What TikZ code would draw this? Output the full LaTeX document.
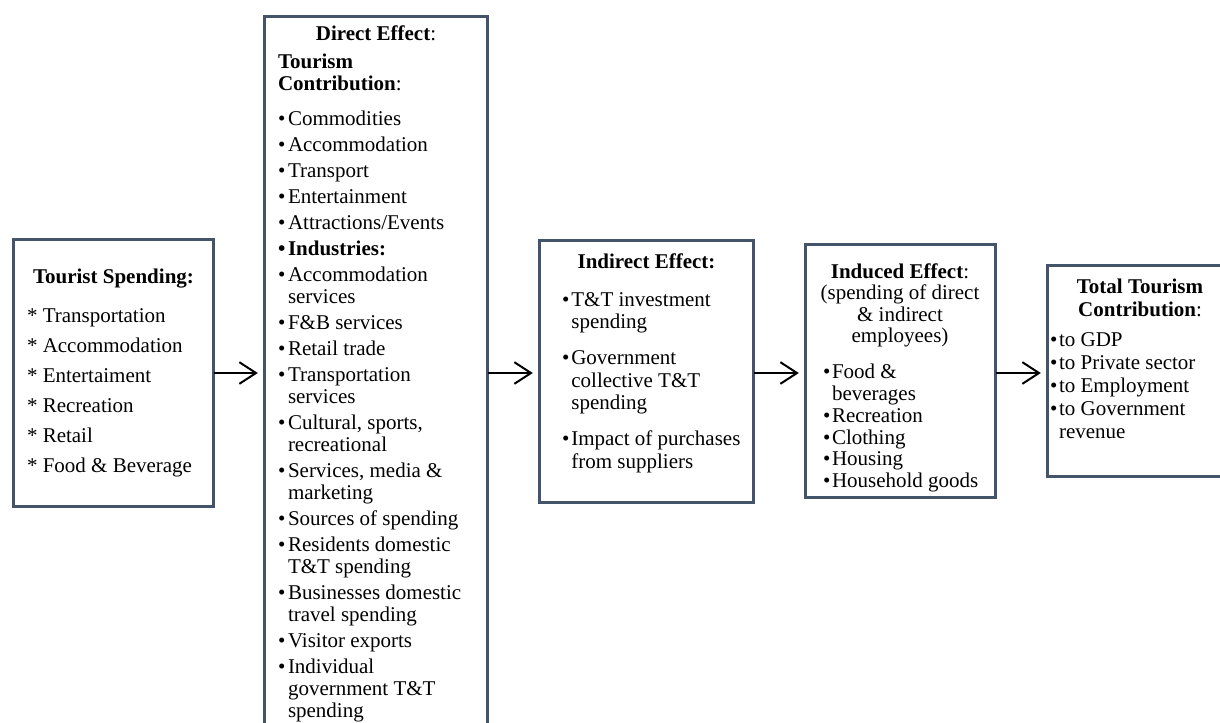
\documentclass[tikz,border=0pt]{standalone}
\usepackage{fontspec}
\setmainfont{Liberation Serif}
\usetikzlibrary{arrows.meta,fit}
\definecolor{boxline}{RGB}{68,84,106}
% bullet set in a box of fixed width, so that item texts line up
\newcommand{\bul}[1]{\makebox[#1][l]{\textbullet}}
\newcommand{\bbul}[1]{\makebox[#1][l]{\textbf{\textbullet}}}

\begin{document}
\begin{tikzpicture}[x=0.6pt,y=-0.6pt,
  panel/.style={draw=boxline, line width=1.8pt, inner sep=0pt, outer sep=0pt},
  txt/.style={inner sep=0pt, outer sep=0pt, anchor=base west},
  ttl/.style={inner sep=0pt, outer sep=0pt, anchor=base},
  flow/.style={draw=black, line width=1.2pt,
    -{Straight Barb[length=10pt,width=13pt]}, shorten >=4pt}
]
\useasboundingbox (0,0) rectangle (1220,722);
\fill[white] (0,0) rectangle (1220,722);
\clip (0,0) rectangle (1220,722);

% ---- panels ----
\node[panel, fit={(13.5,239.5) (213.5,506.5)}] (b1) {};
\node[panel, fit={(264.5,16.5) (487.5,760)}] (b2) {};
\node[panel, fit={(539.5,240.5) (753.5,502.5)}] (b3) {};
\node[panel, fit={(805.5,244.5) (995.5,497.5)}] (b4) {};
\node[panel, fit={(1047.5,265.5) (1240,476.5)}] (b5) {};

% ---- tourist spending ----
\node[ttl, font=\fontsize{12.6}{18}\selectfont] (t1) at (113.5,283)
  {\textbf{Tourist Spending:}};
\node[txt, font=\fontsize{12.6}{18}\selectfont] (l1) at (27,322)
  {\begin{tabular}[t]{@{}l@{}}
   {*} Transportation\\
   {*} Accommodation\\
   {*} Entertaiment\\
   {*} Recreation\\
   {*} Retail\\
   {*} Food \& Beverage
   \end{tabular}};

% ---- direct effect ----
\node[ttl, font=\fontsize{12.6}{13.2}\selectfont] (t2) at (376,40)
  {\textbf{Direct Effect}:};
\node[txt, font=\fontsize{12.6}{13.2}\selectfont] (l2) at (278,68)
  {\begin{tabular}[t]{@{}l@{}l@{}}
   \multicolumn{2}{@{}l@{}}{\textbf{Tourism}}\\
   \multicolumn{2}{@{}l@{}}{\textbf{Contribution}:}\\[7.8pt]
   \bul{6pt} & Commodities\\[2.4pt]
   \bul{6pt} & Accommodation\\[2.4pt]
   \bul{6pt} & Transport\\[2.4pt]
   \bul{6pt} & Entertainment\\[2.4pt]
   \bul{6pt} & Attractions/Events\\[2.4pt]
   \bbul{6pt} & \textbf{Industries:}\\[2.4pt]
   \bul{6pt} & Accommodation\\
             & services\\[2.4pt]
   \bul{6pt} & F\&B services\\[2.4pt]
   \bul{6pt} & Retail trade\\[2.4pt]
   \bul{6pt} & Transportation\\
             & services\\[2.4pt]
   \bul{6pt} & Cultural, sports,\\
             & recreational\\[2.4pt]
   \bul{6pt} & Services, media \&\\
             & marketing\\[2.4pt]
   \bul{6pt} & Sources of spending\\[2.4pt]
   \bul{6pt} & Residents domestic\\
             & T\&T spending\\[2.4pt]
   \bul{6pt} & Businesses domestic\\
             & travel spending\\[2.4pt]
   \bul{6pt} & Visitor exports\\[2.4pt]
   \bul{6pt} & Individual\\
             & government T\&T\\
             & spending
   \end{tabular}};

% ---- indirect effect ----
\node[ttl, font=\fontsize{12.6}{13.5}\selectfont] (t3) at (646.5,268)
  {\textbf{Indirect Effect:}};
\node[txt, font=\fontsize{12.6}{13.5}\selectfont] (l3) at (562,306)
  {\begin{tabular}[t]{@{}l@{}l@{}}
   \bul{5.6pt} & T\&T investment\\
               & spending\\[8.1pt]
   \bul{5.6pt} & Government\\
               & collective T\&T\\
               & spending\\[8.1pt]
   \bul{5.6pt} & Impact of purchases\\
               & from suppliers
   \end{tabular}};

% ---- induced effect ----
\node[ttl, font=\fontsize{12.6}{12.9}\selectfont] (t4) at (900,278)
  {\begin{tabular}[t]{@{}c@{}}
   \textbf{Induced Effect}:\\
   (spending of direct\\
   \& indirect\\
   employees)
   \end{tabular}};
\node[txt, font=\fontsize{12.6}{13.1}\selectfont] (l4) at (823,378.5)
  {\begin{tabular}[t]{@{}l@{}l@{}}
   \bul{5.4pt} & Food \&\\
               & beverages\\
   \bul{5.4pt} & Recreation\\
   \bul{5.4pt} & Clothing\\
   \bul{5.4pt} & Housing\\
   \bul{5.4pt} & Household goods
   \end{tabular}};

% ---- total contribution ----
\node[ttl, font=\fontsize{12.6}{13.8}\selectfont] (t5) at (1140,293.5)
  {\begin{tabular}[t]{@{}c@{}}
   \textbf{Total Tourism}\\
   \textbf{Contribution}:
   \end{tabular}};
\node[txt, font=\fontsize{12.6}{13.8}\selectfont] (l5) at (1050,346.5)
  {\begin{tabular}[t]{@{}l@{}l@{}}
   \bul{5.4pt} & to GDP\\
   \bul{5.4pt} & to Private sector\\
   \bul{5.4pt} & to Employment\\
   \bul{5.4pt} & to Government\\
               & revenue
   \end{tabular}};

% ---- flow arrows ----
\coordinate (ay) at (0,373);
\draw[flow] (b1.east |- ay) -- (b2.west |- ay);
\draw[flow] (b2.east |- ay) -- (b3.west |- ay);
\draw[flow] (b3.east |- ay) -- (b4.west |- ay);
\draw[flow] (b4.east |- ay) -- (b5.west |- ay);
\end{tikzpicture}
\end{document}
